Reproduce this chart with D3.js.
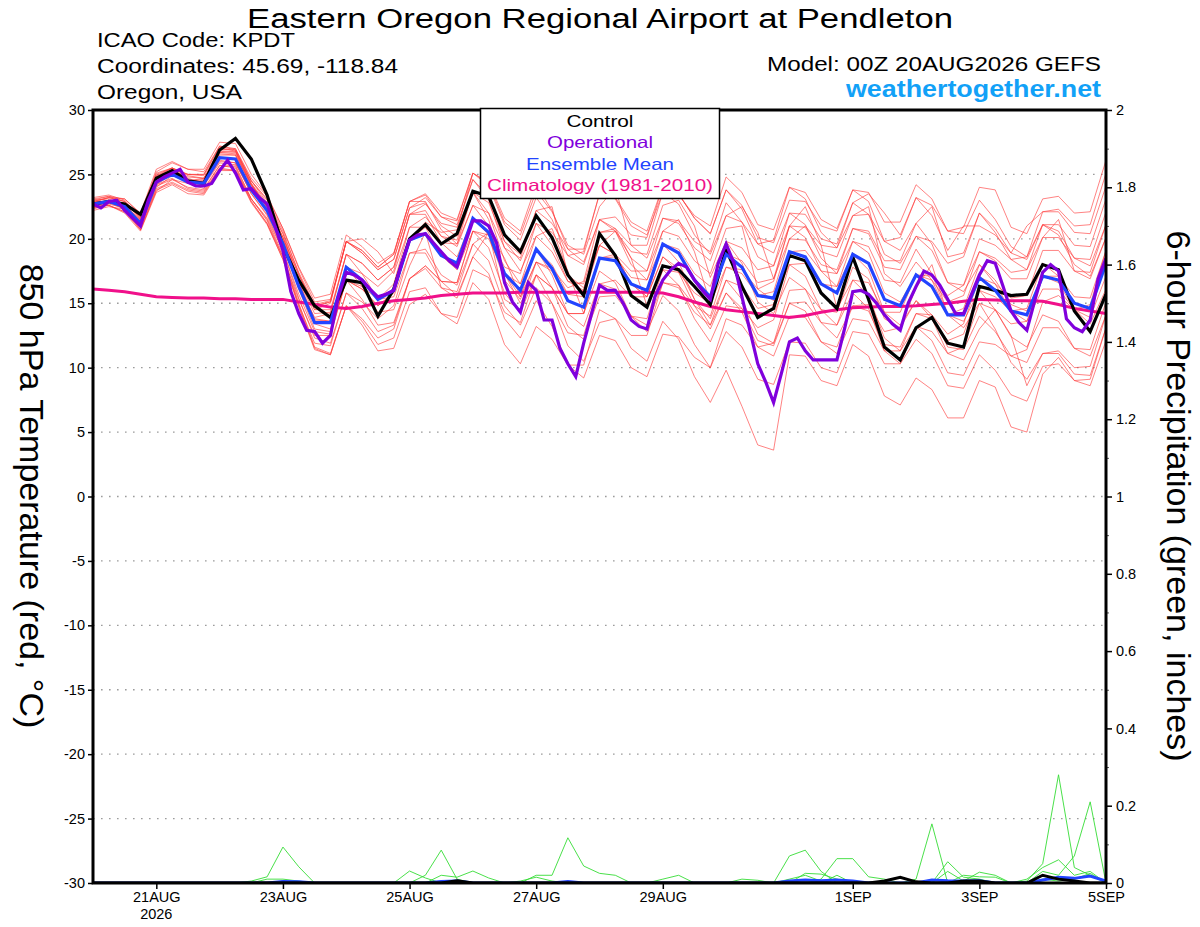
<!DOCTYPE html>
<html>
<head>
<meta charset="utf-8">
<script src="https://cdn.jsdelivr.net/npm/d3@7"></script>
<style>
  body { margin: 0; background: #fff; }
  svg text { font-family: "Liberation Sans", Arial, Helvetica, sans-serif; }
</style>
</head>
<body>
<div id="chart"></div>
<script>
// GEFS 850 hPa temperature plume, KPDT, run 00Z 20AUG2026 (6-hourly, 0-384 h)
const titleText = "Eastern Oregon Regional Airport at Pendleton";
const infoLeft = ["ICAO Code: KPDT", "Coordinates: 45.69, -118.84", "Oregon, USA"];
const modelText = "Model: 00Z 20AUG2026 GEFS";
const siteText = "weathertogether.net";

const legendLabels = ["Control", "Operational", "Ensemble Mean", "Climatology (1981-2010)"];
const legendColors = ["#000000", "#8000dc", "#2244ff", "#f0108a"];

const tempTicks = [-30, -25, -20, -15, -10, -5, 0, 5, 10, 15, 20, 25, 30];
const gridTemps = [-25, -20, -15, -10, -5, 0, 5, 10, 15, 20, 25];
const precipTicks = [0, 0.2, 0.4, 0.6, 0.8, 1, 1.2, 1.4, 1.6, 1.8, 2];
const precipTickLabels = ["0", "0.2", "0.4", "0.6", "0.8", "1", "1.2", "1.4", "1.6", "1.8", "2"];
const precipMinor = [0.1, 0.3, 0.5, 0.7, 0.9, 1.1, 1.3, 1.5, 1.7, 1.9];
const dateTicks = ["2026-08-21", "2026-08-23", "2026-08-25", "2026-08-27", "2026-08-29", "2026-09-01", "2026-09-03", "2026-09-05"];
const dateLabels = ["21AUG", "23AUG", "25AUG", "27AUG", "29AUG", "1SEP", "3SEP", "5SEP"];

// 850 hPa temperature (C), 6-hourly
const control = [22.7,22.9,22.7,21.9, 24.7,25.3,24.5,24.3, 26.9,27.8,26.2,23.4, 19.4,16.8,14.8,13.9, 16.8,16.6,14.0,16.1, 20.0,21.1,19.6,20.4, 23.7,23.3,20.3,19.0, 21.8,20.1,17.2,15.6, 20.4,18.7,15.6,14.7, 17.9,17.6,16.3,14.9, 19.2,16.3,13.9,14.6, 18.7,18.3,15.8,14.6, 18.6,15.3,11.6,10.6, 13.1,13.9,11.9,11.6, 16.3,16.0,15.6,15.7, 18.0,17.6,14.4,12.8, 15.7];
const ensMean = [22.7,22.9,22.5,21.2, 24.4,25.0,24.4,24.3, 26.3,26.2,23.8,22.2, 19.6,16.3,13.5,13.5, 17.8,16.8,15.3,16.0, 19.9,20.4,18.7,18.1, 21.6,20.5,17.3,16.0, 19.2,17.7,15.2,14.7, 18.5,18.3,16.5,16.0, 19.6,18.9,16.8,15.5, 18.8,17.8,15.6,15.4, 19.0,18.6,16.5,15.8, 18.8,18.1,15.3,14.8, 17.2,16.3,14.1,14.1, 17.0,16.0,14.4,14.1, 17.1,16.8,15.0,14.6, 18.1];
const climatology = [16.1,16.0,15.9,15.7, 15.5,15.45,15.4,15.4, 15.35,15.35,15.3,15.3, 15.3,15.1,14.9,14.7, 14.6,14.75,15.0,15.2, 15.3,15.4,15.6,15.7, 15.8,15.8,15.8,15.85, 15.85,15.85,15.85,15.85, 15.85,15.85,15.85,15.85, 15.8,15.5,15.1,14.75, 14.5,14.35,14.2,14.05, 13.9,14.05,14.3,14.5, 14.65,14.7,14.75,14.75, 14.8,14.9,15.0,15.15, 15.3,15.25,15.2,15.2, 15.15,14.9,14.6,14.4, 14.2];
// operational run, 3-hourly
const operational = [22.7,22.4,22.9,23.0,22.2,21.6,21.0,23.0,24.4,24.8,
  25.1,25.4,24.4,24.1,24.1,24.3,25.3,26.1,25.1,23.8,
  23.9,23.2,22.7,21.0,19.1,15.9,14.2,12.9,12.8,11.9,
  12.5,15.5,17.4,17.2,16.8,16.1,15.5,15.7,16.0,18.1,
  19.9,20.3,20.4,19.7,19.0,18.3,17.8,19.6,21.4,21.4,
  21.0,19.7,16.6,15.1,14.3,16.6,16.0,13.7,13.7,11.5,
  10.3,9.3,11.9,14.2,16.4,16.0,16.0,15.0,13.7,13.2,
  13.0,15.5,16.8,17.6,18.1,17.8,16.8,16.0,15.3,18.1,
  19.6,18.1,15.5,12.9,10.3,8.9,7.3,9.6,12.0,12.3,
  11.3,10.6,10.6,10.6,10.6,13.1,15.9,16.0,15.7,15.0,
  14.1,13.4,12.9,15.0,16.3,17.5,17.2,16.4,15.3,14.2,
  14.2,15.7,17.2,18.3,18.1,16.3,14.4,13.5,12.9,15.2,
  17.4,18.0,17.5,13.8,13.1,12.8,13.7,16.9,18.5];

const member01 = [23.0,23.3,23.1,21.9, 25.2,25.9,25.4,25.4, 27.5,27.4,25.0,23.4, 20.8,17.7,15.1,15.3, 19.8,19.1,17.8,18.8, 22.9,23.4,21.7,21.1, 24.6,23.3,19.8,18.3, 21.2,20.5,18.7,19.0, 23.5,23.1,21.0,20.3, 23.6,23.4,21.8,21.0, 24.8,23.6,21.1,20.7, 24.0,23.1,20.5,19.3, 21.8,21.9,19.8,20.1, 23.2,21.8,19.1,21.0, 21.0,20.3,18.9,21.0, 22.1,22.3,21.0,21.1, 25.1];
const member02 = [22.4,22.6,22.1,20.8, 23.9,24.4,23.8,23.6, 25.5,25.3,22.8,21.1, 18.4,14.7,11.4,11.0, 14.8,13.6,11.8,12.3, 15.9,16.2,14.2,13.4, 16.6,15.3,11.8,10.3, 13.2,12.2,10.2,10.2, 14.5,13.8,11.5,10.5, 13.6,12.2,9.3,7.3, 9.8,7.0,4.0,3.6, 11.0,10.9,9.0,8.6, 11.8,10.9,7.8,7.1, 9.2,8.3,6.1,6.1, 9.0,8.5,5.4,5.0, 9.5,10.8,9.0,8.6, 12.1];
const member03 = [22.9,23.2,22.9,21.6, 24.9,25.5,25.0,24.9, 26.9,26.9,24.5,23.0, 20.4,17.4,14.9,15.2, 19.8,19.1,17.8,18.8, 22.9,23.5,22.0,21.5, 25.1,24.1,21.1,19.9, 23.2,21.5,18.7,18.0, 21.5,20.8,18.5,17.5, 20.6,21.5,19.0,15.0, 17.8,17.6,16.1,16.7, 21.0,22.5,19.5,19.3, 22.8,21.9,18.8,18.1, 20.2,19.1,16.6,16.4, 19.0,18.5,17.4,17.6, 21.1,21.1,19.5,19.4, 23.1];
const member04 = [22.5,22.6,22.0,20.6, 23.6,24.2,23.5,23.4, 25.3,25.3,23.1,21.6, 19.1,15.4,12.3,11.9, 15.8,15.1,13.8,14.8, 18.9,18.9,16.7,15.6, 18.6,17.3,13.8,12.3, 15.2,13.2,10.2,9.2, 12.5,12.1,10.0,9.3, 12.6,12.4,10.8,10.0, 13.8,13.3,11.6,11.9, 16.0,16.1,14.5,14.3, 17.8,16.9,13.8,13.1, 15.2,13.8,11.1,10.6, 13.0,14.5,12.5,8.6, 11.1,11.1,9.5,9.4, 13.1];
const member05 = [23.1,23.3,22.9,21.5, 24.7,25.3,24.8,24.7, 26.7,26.8,24.5,23.1, 20.6,17.3,14.5,14.5, 18.8,18.1,16.8,17.8, 21.9,22.2,20.2,19.4, 22.6,22.0,19.3,18.5, 22.2,21.2,19.2,19.2, 23.5,23.2,21.3,20.6, 24.1,23.5,21.6,20.4, 23.8,22.3,19.6,18.9, 22.0,21.1,18.5,17.3, 19.8,18.9,15.8,15.1, 17.2,17.1,15.6,16.4, 20.0,19.5,18.4,18.6, 22.1,22.1,20.5,20.4, 24.1];
const member06 = [22.3,22.7,22.4,21.3, 24.6,25.1,24.3,24.1, 25.9,25.7,23.1,21.4, 18.6,15.3,12.5,12.5, 16.8,16.3,15.3,16.5, 20.9,21.7,20.2,19.9, 23.6,22.0,18.3,16.5, 19.2,17.2,14.2,13.2, 16.5,16.1,14.0,13.3, 16.6,16.2,14.3,13.3, 16.8,16.3,14.6,14.9, 19.0,19.1,17.5,17.3, 20.8,20.6,18.3,18.3, 21.2,22.5,18.6,18.9, 22.0,20.5,18.4,17.6, 20.1,21.5,17.5,16.9, 20.1];
const member07 = [22.8,23.2,23.1,22.0, 25.4,26.0,25.4,25.2, 27.2,27.0,24.5,22.8, 20.1,17.2,14.8,15.1, 19.8,18.9,17.6,18.4, 22.4,23.2,21.7,21.4, 25.1,24.3,21.3,20.3, 23.7,22.1,19.5,18.8, 22.5,24.0,19.5,18.5, 21.6,21.2,19.3,18.3, 21.8,21.3,19.6,19.9, 24.0,23.6,21.5,20.8, 23.8,22.9,19.8,19.1, 21.2,19.6,16.6,15.9, 18.0,16.5,14.4,13.6, 16.1,16.1,14.5,14.4, 18.1];
const member08 = [22.6,22.8,22.3,21.0, 24.1,24.6,24.0,23.8, 25.7,25.6,23.1,21.5, 18.8,15.0,11.6,11.1, 14.8,13.3,11.3,11.5, 14.9,15.7,14.2,13.9, 17.6,17.0,14.3,13.5, 17.2,16.2,14.2,14.2, 18.5,18.6,17.0,16.8, 20.6,20.2,18.3,17.3, 20.8,21.0,16.1,15.2, 18.0,17.1,14.5,13.3, 15.8,14.6,11.3,10.3, 12.2,11.1,8.6,8.4, 11.0,9.8,7.9,7.4, 10.1,10.3,9.0,9.1, 13.1];
const member09 = [22.9,23.2,22.9,21.7, 25.0,25.5,24.9,24.7, 26.6,26.5,24.1,22.5, 19.9,16.8,14.2,14.3, 18.8,17.3,15.3,15.5, 18.9,19.2,17.2,16.4, 19.6,18.3,14.8,13.3, 16.2,15.0,12.7,12.5, 16.5,16.8,15.5,15.5, 19.6,19.2,17.3,16.3, 19.8,19.3,17.6,17.9, 22.0,21.9,20.0,19.6, 22.8,23.5,22.0,20.3, 23.2,22.6,20.6,20.9, 24.0,23.8,20.9,20.4, 23.1,23.3,22.0,22.1, 26.1];
const member10 = [22.5,22.6,22.1,20.7, 23.8,24.3,23.7,23.5, 25.4,25.3,22.9,21.2, 18.6,14.8,11.5,11.0, 14.8,13.8,12.3,13.0, 16.9,17.9,16.7,16.6, 20.6,20.0,17.3,16.5, 20.2,19.0,16.7,16.5, 20.5,20.6,19.0,18.8, 22.6,23.0,21.0,17.0, 19.8,18.1,15.1,14.2, 17.0,16.1,13.5,12.3, 14.8,14.4,11.8,11.6, 14.2,13.8,12.1,12.6, 16.0,15.5,14.4,14.6, 18.1,17.1,14.5,13.4, 16.1];
const member11 = [23.2,23.4,23.0,21.6, 24.8,25.5,25.0,25.0, 27.1,26.8,24.2,22.4, 19.6,16.1,13.0,12.8, 16.8,16.1,14.8,15.8, 19.9,20.9,19.7,19.6, 23.6,22.8,19.8,18.8, 22.2,22.5,17.2,16.2, 19.5,18.8,16.5,15.5, 18.6,17.4,14.8,13.0, 15.8,14.6,12.1,11.7, 15.0,15.1,13.5,13.3, 16.8,16.6,14.3,14.3, 17.2,16.8,15.1,15.6, 19.0,18.3,16.9,16.9, 20.1,20.1,18.5,18.4, 22.1];
const member12 = [22.2,22.5,22.3,21.1, 24.4,25.1,24.5,24.5, 26.5,26.5,24.2,22.6, 20.1,17.2,14.8,15.1, 19.8,20.0,19.0,17.3, 20.9,20.9,18.7,17.6, 20.6,19.3,15.8,14.3, 17.2,16.2,14.2,14.2, 18.5,18.8,17.5,17.5, 21.6,21.4,19.8,19.0, 22.8,21.3,18.6,17.9, 21.0,20.1,17.5,16.3, 18.8,17.6,14.3,13.3, 15.2,14.1,11.6,11.4, 14.0,12.8,10.9,10.4, 13.1,13.1,11.5,11.4, 15.1];
const member13 = [23.0,23.1,22.6,21.1, 24.2,25.0,24.5,24.6, 26.7,26.6,24.2,22.5, 19.9,16.5,13.7,13.6, 17.8,17.3,16.3,17.5, 21.9,22.7,21.2,20.9, 24.6,23.0,19.3,17.5, 20.2,20.8,17.5,14.2, 17.5,16.6,14.0,12.8, 15.6,14.4,11.8,10.0, 12.8,11.6,9.1,8.7, 12.0,11.9,10.0,9.6, 12.8,12.6,10.3,10.3, 13.2,12.8,11.1,11.6, 15.0,14.5,13.4,13.6, 17.1,17.1,15.5,15.4, 19.1];
const member14 = [22.4,22.8,22.6,21.5, 24.9,25.3,24.5,24.2, 26.0,25.9,23.5,21.9, 19.3,16.3,13.9,14.2, 18.8,18.1,16.8,17.8, 21.9,21.9,19.7,18.6, 21.6,20.3,16.8,15.3, 18.2,17.5,15.7,16.0, 20.5,20.8,19.5,19.5, 23.6,22.7,20.3,18.8, 21.8,22.5,20.5,16.9, 20.0,19.9,18.0,17.6, 20.8,20.4,17.8,17.6, 20.2,19.8,18.1,18.6, 22.0,20.8,18.9,18.4, 21.1,20.6,18.5,17.9, 21.1];
const member15 = [22.8,22.9,22.4,20.9, 24.0,24.9,24.5,24.7, 26.9,27.0,24.7,23.3, 20.8,17.8,15.4,15.7, 20.3,19.4,18.1,18.9, 22.9,22.9,20.7,19.6, 22.6,21.0,17.3,15.5, 18.2,16.2,13.2,12.2, 15.5,15.6,14.0,13.8, 17.6,17.4,15.8,15.0, 18.8,18.3,16.6,16.9, 21.0,20.9,19.0,18.6, 21.8,22.5,17.3,16.3, 18.2,16.8,14.1,13.6, 16.0,14.5,12.4,11.6, 14.1,13.6,11.5,10.9, 14.1];
const member16 = [22.6,22.9,22.6,21.4, 24.7,25.1,24.3,23.9, 25.7,25.5,22.9,21.2, 18.4,14.9,11.9,11.7, 15.8,14.6,12.8,13.3, 16.9,17.7,16.2,15.9, 19.6,20.5,18.5,15.5, 19.2,18.0,15.7,15.5, 19.5,18.8,16.5,15.5, 18.6,17.7,15.3,13.8, 16.8,15.3,12.6,11.9, 15.0,14.4,12.0,11.1, 13.8,13.6,11.3,11.3, 14.2,14.1,12.6,13.4, 17.0,16.5,15.4,15.6, 19.1,19.1,17.5,17.4, 21.1];
const member17 = [22.9,22.9,22.3,20.7, 23.7,24.6,24.3,24.5, 26.8,26.7,24.3,22.7, 20.1,16.7,13.8,13.6, 17.8,16.3,14.3,14.5, 17.9,20.5,16.2,15.4, 18.6,20.5,15.3,14.5, 18.2,17.7,16.2,16.7, 21.5,21.7,20.3,20.1, 24.1,23.5,21.6,20.4, 23.8,22.6,20.1,19.7, 23.0,22.9,21.0,20.6, 23.8,23.6,21.3,21.3, 24.2,23.1,20.6,20.4, 23.0,21.5,19.4,18.6, 21.1,20.3,18.0,17.1, 20.1];
const member18 = [22.5,22.9,22.8,21.7, 25.1,25.5,24.7,24.3, 26.1,25.9,23.5,21.8, 19.1,15.7,12.8,12.6, 16.8,16.1,14.8,15.8, 19.9,21.3,20.5,20.7, 25.1,24.4,21.6,20.6, 24.2,22.2,19.2,18.2, 21.5,20.6,18.0,16.8, 19.6,18.2,15.3,13.3, 15.8,14.3,11.6,10.9, 14.0,13.9,12.0,11.6, 14.8,14.9,12.8,13.1, 16.2,18.0,14.1,14.6, 18.0,16.8,14.9,14.4, 17.1,16.6,14.5,13.9, 17.1];
const member19 = [22.7,23.0,22.6,21.4, 24.6,25.4,25.0,25.0, 27.2,26.9,24.3,22.4, 19.6,16.8,14.5,15.0, 19.8,18.9,17.6,18.4, 22.4,22.8,21.0,20.2, 23.6,21.5,17.3,15.0, 17.2,15.0,11.7,10.5, 13.5,13.8,12.5,12.5, 16.6,16.4,14.8,14.0, 17.8,17.3,15.6,15.9, 20.0,21.0,19.5,14.6, 16.8,15.6,12.3,11.3, 13.2,12.1,9.6,9.4, 12.0,11.8,10.9,11.4, 15.1,15.6,14.5,14.9, 19.1];
const member20 = [22.7,22.9,22.4,21.1, 24.2,24.7,23.9,23.7, 25.5,25.8,23.8,22.6, 20.4,16.7,13.4,13.0, 16.8,15.3,13.3,13.5, 16.9,17.9,16.7,16.6, 20.6,20.3,17.8,17.3, 21.2,19.5,16.7,16.0, 19.5,20.6,18.5,14.8, 17.6,16.4,13.8,12.0, 14.8,14.6,13.1,13.7, 18.0,18.1,16.5,16.3, 19.8,19.4,16.8,16.6, 19.2,17.3,14.1,13.1, 15.0,13.0,10.4,9.1, 11.1,11.3,10.0,10.1, 14.1];
const members = [member01, member02, member03, member04, member05, member06, member07, member08, member09, member10,
  member11, member12, member13, member14, member15, member16, member17, member18, member19, member20];

// 6-hour precipitation (inches), 6-hourly; members with no rain sit on the axis and are left out
const precip01 = [0,0,0,0,0,0,0,0,0,0, .005,.016,.093,.042,0,0,0,0,0,0, 0,0,0,0,0,0,0,0,.02,.02, .117,.044,.025,.02,0,0,0,0,0,0, 0,0,0,0,0,.025,.023,.01,0,0, 0,0,0,0,0,0,0,0,0,.005, .05,.28,.04,.02,0];
const precip02 = [0,0,0,0,0,0,0,0,0,0, 0,.01,.01,.005,0,0,0,0,0,0, .031,.013,0,0,0,0,0,0,0,0, 0,0,0,0,0,0,.01,.02,0,0, 0,0,0,0,.07,.085,.03,0,0,0, 0,0,.01,.153,0,0,0,0,0,0, .03,.02,.07,.21,0];
const precip03 = [0,0,0,0,0,0,0,0,0,0, 0,0,0,0,0,0,0,0,0,0, 0,.02,.085,.01,0,0,0,0,0,0, 0,0,0,0,0,0,0,0,0,0, 0,0,0,0,0,0,.01,.063,.063,.016, .01,0,0,0,.055,.015,.01,0,0,0, 0,0,0,0,0];
const precip04 = [0,0,0,0,0,0,0,0,0,0, 0,0,0,0,0,0,0,0,0,0, 0,0,.02,.015,.031,.013,0,0,0,0, 0,0,0,0,0,0,0,0,0,0, 0,.01,.007,0,0,0,0,0,0,0, 0,0,0,0,.03,.005,.028,.02,0,0, 0,0,0,0,0];
const precip05 = [0,0,0,0,0,0,0,0,0,0, 0,0,.005,0,0,0,0,0,0,0, 0,0,0,0,0,0,0,.005,.015,.005, 0,0,0,0,0,0,0,0,0,0, 0,0,0,0,0,0,0,.02,0,0, 0,0,0,0,0,.02,.016,.015,0,0, .01,.005,.01,.025,0];
const precip06 = [0,0,0,0,0,0,0,0,0,0, 0,0,0,0,0,0,0,0,0,0, 0,0,0,0,0,0,0,0,0,0, 0,0,0,0,0,0,0,0,0,0, 0,0,0,0,.01,.02,.005,0,0,0, 0,0,0,0,0,0,0,0,0,.01, .04,.06,.02,.03,0];
const precipMembers = [precip01, precip02, precip03, precip04, precip05, precip06];
const precipControl = [0,0,0,0,0,0,0,0,0,0, 0,0,0,0,0,0,0,0,0,0, 0,0,0,.006,0,0,0,0,0,0, 0,0,0,0,0,0,0,0,0,0, 0,0,0,0,0,0,0,0,0,0, .005,.015,.003,0,0,.005,.005,0,0,0, .02,.01,.005,0,0];
const precipMean = [0,0,0,0,0,0,0,0,0,0, 0,0,.004,.003,0,0,0,0,0,0, 0,0,.004,.005,0,0,0,0,0,0, .004,0,0,0,0,0,0,0,0,0, 0,0,0,0,.005,.008,.006,.008,.005,0, 0,0,0,.008,.006,.005,.006,0,0,0, .008,.015,.012,.018,.005];

const W = 1200, H = 927;
const plot = { left: 93, right: 1106, top: 110, bottom: 883 };
const t0 = Date.UTC(2026, 7, 20, 0);
const atHour = h => new Date(t0 + h * 3600e3);

const svg = d3.select("#chart").append("svg")
  .attr("width", W).attr("height", H)
  .style("display", "block");

const x = d3.scaleUtc().domain([atHour(0), atHour(384)]).range([plot.left, plot.right]);
const yT = d3.scaleLinear().domain([-30, 30]).range([plot.bottom, plot.top]);
const yP = d3.scaleLinear().domain([0, 2]).range([plot.bottom, plot.top]);

svg.append("clipPath").attr("id", "plot-clip")
  .append("rect")
  .attr("x", plot.left).attr("y", plot.top)
  .attr("width", plot.right - plot.left).attr("height", plot.bottom - plot.top);

// dotted grid
svg.append("g").selectAll("line")
  .data(gridTemps)
  .join("line")
  .attr("x1", plot.left).attr("x2", plot.right)
  .attr("y1", d => yT(d)).attr("y2", d => yT(d))
  .attr("stroke", "#9c9c9c")
  .attr("stroke-width", 1.3)
  .attr("stroke-dasharray", "1.6,6.4");

const line6 = d3.line().x((d, i) => x(atHour(i * 6))).y(d => yT(d));
const line3 = d3.line().x((d, i) => x(atHour(i * 3))).y(d => yT(d));
const lineP = d3.line().x((d, i) => x(atHour(i * 6))).y(d => yP(d));

const g = svg.append("g").attr("clip-path", "url(#plot-clip)");

g.selectAll(".member")
  .data(members)
  .join("path")
  .attr("class", "member")
  .attr("d", line6)
  .attr("fill", "none")
  .attr("stroke", "#ff3a3a")
  .attr("stroke-opacity", 0.7)
  .attr("stroke-width", 0.9);

g.selectAll(".pmember")
  .data(precipMembers)
  .join("path")
  .attr("class", "pmember")
  .attr("d", lineP)
  .attr("fill", "none")
  .attr("stroke", "#35dc35")
  .attr("stroke-width", 0.9);

g.append("path").datum(precipMean).attr("d", lineP)
  .attr("fill", "none").attr("stroke", "#2244ff").attr("stroke-width", 3);
g.append("path").datum(precipControl).attr("d", lineP)
  .attr("fill", "none").attr("stroke", "#000").attr("stroke-width", 3);

g.append("path").datum(climatology).attr("d", line6)
  .attr("fill", "none").attr("stroke", legendColors[3]).attr("stroke-width", 3);
g.append("path").datum(control).attr("d", line6)
  .attr("fill", "none").attr("stroke", legendColors[0]).attr("stroke-width", 3.2);
g.append("path").datum(ensMean).attr("d", line6)
  .attr("fill", "none").attr("stroke", legendColors[2]).attr("stroke-width", 3.2);
g.append("path").datum(operational).attr("d", line3)
  .attr("fill", "none").attr("stroke", legendColors[1]).attr("stroke-width", 3.2);

// axes
const tickFont = g2 => g2.selectAll("text")
  .attr("font-size", 14.5)
  .attr("fill", "#000")
  .style("font-family", "'Liberation Sans', Arial, sans-serif");

svg.append("g")
  .attr("transform", `translate(${plot.left},0)`)
  .call(d3.axisLeft(yT).tickValues(tempTicks).tickFormat(d => String(d)).tickSize(5).tickPadding(3).tickSizeOuter(0))
  .call(a => a.select(".domain").remove())
  .call(a => a.selectAll("line").attr("stroke-width", 1.5))
  .call(tickFont);

svg.append("g")
  .attr("transform", `translate(${plot.right},0)`)
  .call(d3.axisRight(yP).tickValues(precipTicks).tickFormat((d, i) => precipTickLabels[i]).tickSize(6).tickPadding(4).tickSizeOuter(0))
  .call(a => a.select(".domain").remove())
  .call(a => a.selectAll("line").attr("stroke-width", 1.5))
  .call(tickFont);

svg.append("g")
  .attr("transform", `translate(${plot.right},0)`)
  .call(d3.axisRight(yP).tickValues(precipMinor).tickFormat("").tickSize(3).tickSizeOuter(0))
  .call(a => a.select(".domain").remove())
  .call(a => a.selectAll("line").attr("stroke", "#555"));

svg.append("g")
  .attr("transform", `translate(0,${plot.bottom})`)
  .call(d3.axisBottom(x).tickValues(dateTicks.map(s => new Date(s + "T00:00:00Z"))).tickFormat((d, i) => dateLabels[i]).tickSize(6).tickPadding(3).tickSizeOuter(0))
  .call(a => a.select(".domain").remove())
  .call(a => a.selectAll("line").attr("stroke-width", 1.5))
  .call(tickFont);

svg.append("text")
  .attr("x", x(new Date(dateTicks[0] + "T00:00:00Z"))).attr("y", 919)
  .attr("text-anchor", "middle").attr("font-size", 14.5)
  .text("2026");

// frame
svg.append("rect")
  .attr("x", plot.left).attr("y", plot.top)
  .attr("width", plot.right - plot.left).attr("height", plot.bottom - plot.top)
  .attr("fill", "none").attr("stroke", "#000").attr("stroke-width", 3);

// legend box
const lg = svg.append("g");
lg.append("rect")
  .attr("x", 480.5).attr("y", 108.5).attr("width", 239).attr("height", 90)
  .attr("fill", "#fff").attr("stroke", "#000").attr("stroke-width", 1.5);
const legendBase = [127, 148, 169.5, 191];
const legendWidth = [67, 106, 148, 226];
lg.selectAll("text")
  .data(legendLabels)
  .join("text")
  .attr("x", 600).attr("y", (d, i) => legendBase[i])
  .attr("text-anchor", "middle")
  .attr("font-size", 16.5)
  .attr("fill", (d, i) => legendColors[i])
  .attr("textLength", (d, i) => legendWidth[i])
  .attr("lengthAdjust", "spacingAndGlyphs")
  .text(d => d);

// header
svg.append("text")
  .attr("x", 600).attr("y", 27.5)
  .attr("text-anchor", "middle").attr("font-size", 27)
  .attr("textLength", 706).attr("lengthAdjust", "spacingAndGlyphs")
  .text(titleText);

const infoBase = [47, 73, 99];
const infoWidth = [198, 301, 145];
svg.selectAll(".info")
  .data(infoLeft)
  .join("text")
  .attr("class", "info")
  .attr("x", 97).attr("y", (d, i) => infoBase[i])
  .attr("font-size", 20)
  .attr("textLength", (d, i) => infoWidth[i])
  .attr("lengthAdjust", "spacingAndGlyphs")
  .text(d => d);

svg.append("text")
  .attr("x", 1101).attr("y", 71)
  .attr("text-anchor", "end").attr("font-size", 20)
  .attr("textLength", 334).attr("lengthAdjust", "spacingAndGlyphs")
  .text(modelText);

svg.append("text")
  .attr("x", 1101).attr("y", 97)
  .attr("text-anchor", "end").attr("font-size", 23).attr("font-weight", "bold")
  .attr("fill", "#12a1f7")
  .attr("textLength", 255).attr("lengthAdjust", "spacingAndGlyphs")
  .text(siteText);

// axis titles
svg.append("text")
  .attr("transform", "translate(20,496) rotate(90)")
  .attr("text-anchor", "middle").attr("font-size", 34)
  .text("850 hPa Temperature (red, °C)");

svg.append("text")
  .attr("transform", "translate(1167,496) rotate(90)")
  .attr("text-anchor", "middle").attr("font-size", 34)
  .text("6-hour Precipitation (green, inches)");
</script>
</body>
</html>
